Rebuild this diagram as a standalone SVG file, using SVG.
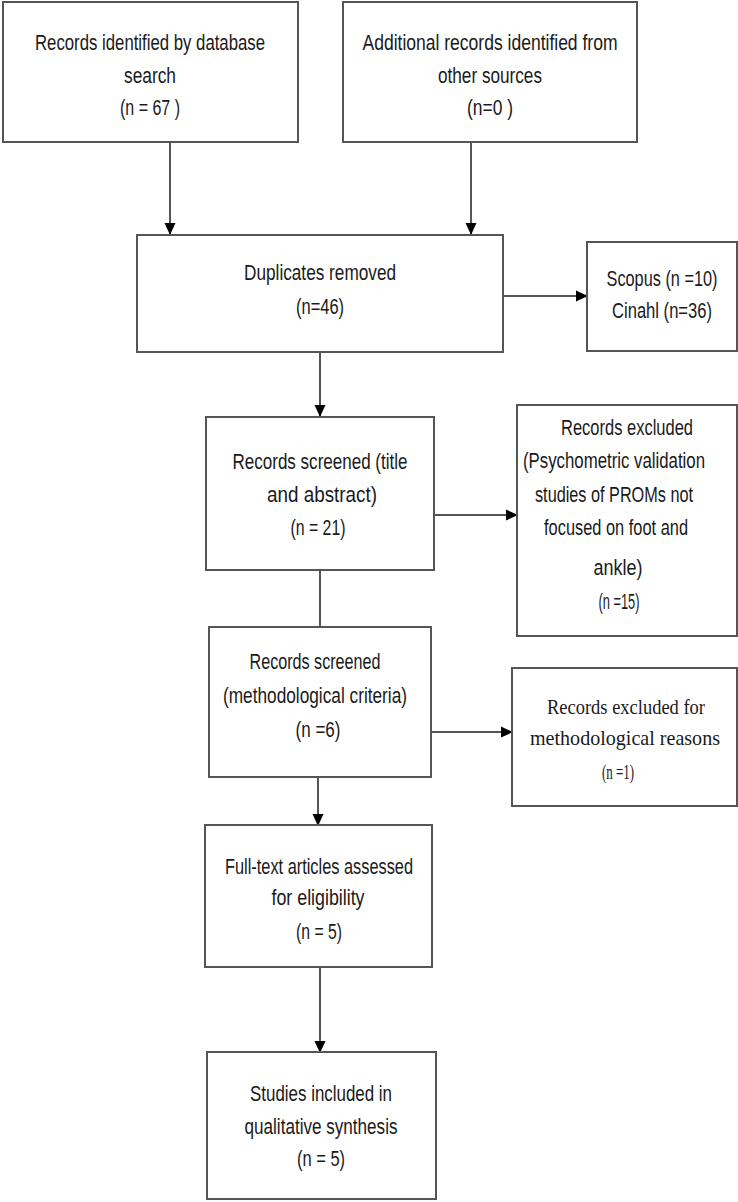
<svg xmlns="http://www.w3.org/2000/svg" width="738" height="1202" viewBox="0 0 738 1202">
<defs>
<marker id="ah" markerWidth="12" markerHeight="12" refX="11" refY="6" orient="auto" markerUnits="userSpaceOnUse">
<path d="M0,0.5 L12,6 L0,11.5 Z" fill="#000"/>
</marker>
<style>
.box{fill:#fff;stroke:#555;stroke-width:2}
.t{font-family:"Liberation Sans",Arial,sans-serif;font-size:22px;fill:#1a1a1a;text-anchor:middle}
.s{font-family:"Liberation Serif","Times New Roman",serif;font-size:22px;fill:#1a1a1a;text-anchor:middle}
.c{stroke:#555;stroke-width:2;fill:none}
</style>
</defs>
<rect width="738" height="1202" fill="#fff"/>
<g id="connectors">
<line class="c" x1="170" y1="142" x2="170" y2="234" marker-end="url(#ah)"/>
<line class="c" x1="471" y1="142" x2="471" y2="234" marker-end="url(#ah)"/>
<line class="c" x1="503" y1="296" x2="587" y2="296" marker-end="url(#ah)"/>
<line class="c" x1="320" y1="352" x2="320" y2="416" marker-end="url(#ah)"/>
<line class="c" x1="434" y1="515" x2="517" y2="515" marker-end="url(#ah)"/>
<line class="c" x1="320" y1="570" x2="320" y2="627"/>
<line class="c" x1="431" y1="732" x2="512" y2="732" marker-end="url(#ah)"/>
<line class="c" x1="318" y1="777" x2="318" y2="825" marker-end="url(#ah)"/>
<line class="c" x1="320" y1="967" x2="320" y2="1052" marker-end="url(#ah)"/>
</g>
<g id="n1">
<rect class="box" x="3" y="2" width="295" height="140"/>
<text class="t" transform="translate(150 50) scale(0.8 1)" textLength="287.5" lengthAdjust="spacingAndGlyphs">Records identified by database</text>
<text class="t" transform="translate(150 83) scale(0.8 1)" textLength="65" lengthAdjust="spacingAndGlyphs">search</text>
<text class="t" transform="translate(150 115) scale(0.8 1)" textLength="75" lengthAdjust="spacingAndGlyphs">(n = 67 )</text>
</g>
<g id="n2">
<rect class="box" x="343" y="2" width="294" height="140"/>
<text class="t" transform="translate(490 50) scale(0.8 1)" textLength="318.75" lengthAdjust="spacingAndGlyphs">Additional records identified from</text>
<text class="t" transform="translate(490 83) scale(0.8 1)" textLength="130" lengthAdjust="spacingAndGlyphs">other sources</text>
<text class="t" transform="translate(490 115) scale(0.8 1)" textLength="57.5" lengthAdjust="spacingAndGlyphs">(n=0 )</text>
</g>
<g id="n3">
<rect class="box" x="137" y="235" width="366" height="117"/>
<text class="t" transform="translate(320 280) scale(0.8 1)" textLength="190" lengthAdjust="spacingAndGlyphs">Duplicates removed</text>
<text class="t" transform="translate(320 314) scale(0.8 1)" textLength="60" lengthAdjust="spacingAndGlyphs">(n=46)</text>
</g>
<g id="n4">
<rect class="box" x="587" y="242" width="150" height="109"/>
<text class="t" transform="translate(662 286) scale(0.8 1)" textLength="138.75" lengthAdjust="spacingAndGlyphs">Scopus (n =10)</text>
<text class="t" transform="translate(662 318) scale(0.8 1)" textLength="125" lengthAdjust="spacingAndGlyphs">Cinahl (n=36)</text>
</g>
<g id="n5">
<rect class="box" x="206" y="417" width="228" height="153"/>
<text class="t" transform="translate(320 469) scale(0.8 1)" textLength="218.75" lengthAdjust="spacingAndGlyphs">Records screened (title</text>
<text class="t" transform="translate(322 502) scale(0.8 1)" textLength="137.5" lengthAdjust="spacingAndGlyphs">and abstract)</text>
<text class="t" transform="translate(318 535) scale(0.8 1)" textLength="68.75" lengthAdjust="spacingAndGlyphs">(n = 21)</text>
</g>
<g id="n6">
<rect class="box" x="517" y="405" width="220" height="231"/>
<text class="t" transform="translate(627 435) scale(0.8 1)" textLength="165" lengthAdjust="spacingAndGlyphs">Records excluded</text>
<text class="t" transform="translate(614 468) scale(0.8 1)" textLength="227.5" lengthAdjust="spacingAndGlyphs">(Psychometric validation</text>
<text class="t" transform="translate(614 502) scale(0.8 1)" textLength="197.5" lengthAdjust="spacingAndGlyphs">studies of PROMs not</text>
<text class="t" transform="translate(616 535) scale(0.8 1)" textLength="180" lengthAdjust="spacingAndGlyphs">focused on foot and</text>
<text class="t" transform="translate(618 575) scale(0.8 1)" textLength="61.25" lengthAdjust="spacingAndGlyphs">ankle)</text>
<text class="t" transform="translate(619 609) scale(0.8 1)" textLength="51.25" lengthAdjust="spacingAndGlyphs">(n =15)</text>
</g>
<g id="n7">
<rect class="box" x="209" y="627" width="222" height="150"/>
<text class="t" transform="translate(315 669) scale(0.8 1)" textLength="163.75" lengthAdjust="spacingAndGlyphs">Records screened</text>
<text class="t" transform="translate(315 703) scale(0.8 1)" textLength="230" lengthAdjust="spacingAndGlyphs">(methodological criteria)</text>
<text class="t" transform="translate(318 737) scale(0.8 1)" textLength="56.25" lengthAdjust="spacingAndGlyphs">(n =6)</text>
</g>
<g id="n8">
<rect class="box" x="512" y="668" width="225" height="138"/>
<text class="s" transform="translate(626 714) scale(0.8 1)" textLength="197.5" lengthAdjust="spacingAndGlyphs">Records excluded for</text>
<text class="s" transform="translate(625 745) scale(0.8 1)" textLength="237.5" lengthAdjust="spacingAndGlyphs">methodological reasons</text>
<text class="s" transform="translate(618 779) scale(0.8 1)" textLength="40" lengthAdjust="spacingAndGlyphs">(n =1)</text>
</g>
<g id="n9">
<rect class="box" x="205" y="825" width="227" height="142"/>
<text class="t" transform="translate(319 874) scale(0.8 1)" textLength="235" lengthAdjust="spacingAndGlyphs">Full-text articles assessed</text>
<text class="t" transform="translate(318 905) scale(0.8 1)" textLength="116.25" lengthAdjust="spacingAndGlyphs">for eligibility</text>
<text class="t" transform="translate(319 939) scale(0.8 1)" textLength="57.5" lengthAdjust="spacingAndGlyphs">(n = 5)</text>
</g>
<g id="n10">
<rect class="box" x="207" y="1052" width="229" height="147"/>
<text class="t" transform="translate(321 1101) scale(0.8 1)" textLength="177.5" lengthAdjust="spacingAndGlyphs">Studies included in</text>
<text class="t" transform="translate(321 1134) scale(0.8 1)" textLength="191.25" lengthAdjust="spacingAndGlyphs">qualitative synthesis</text>
<text class="t" transform="translate(321 1166) scale(0.8 1)" textLength="60" lengthAdjust="spacingAndGlyphs">(n = 5)</text>
</g>
</svg>
